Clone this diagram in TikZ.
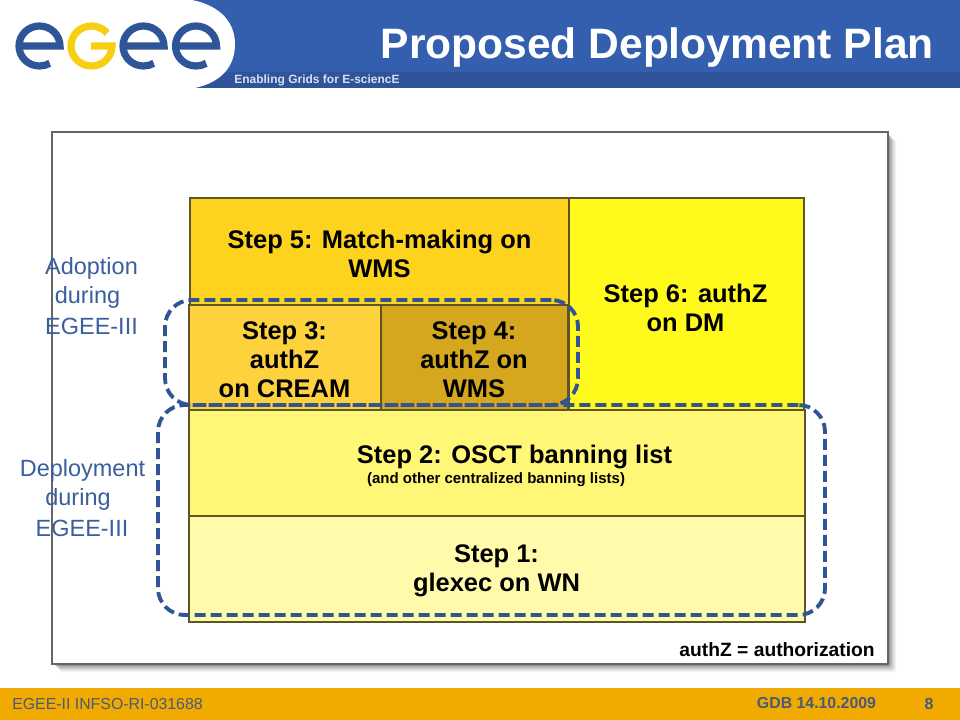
\documentclass[tikz,border=0pt]{standalone}
\usepackage{fontspec}
\setmainfont{Liberation Sans}
\usetikzlibrary{calc}
\definecolor{hdrblue}{HTML}{335FAE}
\definecolor{stripblue}{HTML}{2F5499}
\definecolor{footor}{HTML}{F0AA00}
\definecolor{logoblue}{HTML}{2E5597}
\definecolor{logoyel}{HTML}{F7CE10}
\definecolor{dashblue}{HTML}{2F5596}
\definecolor{lblblue}{HTML}{3A5E9E}
\definecolor{footgray}{HTML}{4A5A78}
\definecolor{tagcol}{HTML}{D6E0F0}
\definecolor{stepline}{HTML}{5F5428}
\definecolor{cfive}{HTML}{FDD31E}
\definecolor{csix}{HTML}{FFFA1C}
\definecolor{cthree}{HTML}{FED23C}
\definecolor{cfour}{HTML}{D4A71E}
\definecolor{ctwo}{HTML}{FFF775}
\definecolor{cone}{HTML}{FFFBAA}
\newcommand{\fsz}[2]{\fontsize{#1}{#2}\selectfont}
\tikzset{
  stepbox/.style={draw=stepline,line width=0.85pt,inner sep=0pt,outer sep=0pt,anchor=north west},
  steptext/.style={inner sep=0pt,align=center,font=\bfseries\fsz{19.1}{21.75}},
  sidelabel/.style={text=lblblue,font=\fsz{17.6}{20},inner sep=0pt},
  dashloop/.style={draw=dashblue,line width=2.9pt,dash pattern=on 8.2pt off 3.8pt,rounded corners=20pt,inner sep=0pt,outer sep=0pt,anchor=north west},
}
\begin{document}
\begin{tikzpicture}[x=0.75pt,y=-0.75pt]
\useasboundingbox (0,0) rectangle (960,720);
\fill[white] (0,0) rectangle (960,720);
% header
\fill[hdrblue] (0,0) rectangle (960,88);
\fill[stripblue] (0,72) rectangle (960,88);
\fill[white] (0,0) -- (192,0) .. controls (222,6) and (235,24) .. (235,44) .. controls (235,66) and (222,82) .. (195,88) -- (0,88) -- cycle;
% logo
\foreach \cx in {39.5,143.5,196}{
  \draw[line width=5.4pt,color=logoblue] (\cx-20.5,46) -- (\cx+20.5,46) arc[start angle=0,end angle=-300,x radius=20.5,y radius=20];
}
\draw[line width=5.4pt,color=logoyel] (91,46) -- (112,46) arc[start angle=0,end angle=320,x radius=20.5,y radius=20];
\node[anchor=west,inner sep=0pt,text=tagcol,font=\bfseries\fsz{9}{11}] (tag) at (234,80) {Enabling Grids for E-sciencE};
\node[anchor=east,inner sep=0pt,text=white,font=\bfseries\fsz{31.9}{36}] (title) at (934,48) {Proposed Deployment Plan};
% footer
\fill[footor] (0,688) rectangle (960,720);
\node[anchor=west,inner sep=0pt,text=footgray,font=\fsz{11.9}{14}] (proj) at (12,704) {EGEE-II INFSO-RI-031688};
\node[anchor=center,inner sep=0pt,text=footgray,font=\bfseries\fsz{11.9}{13}] (gdb) at (816.5,703) {GDB 14.10.2009};
\node[anchor=center,inner sep=0pt,text=footgray,font=\bfseries\fsz{12}{14}] (page) at (929,704) {8};
% panel with soft shadow
\foreach \o/\a in {8/0.05,6.5/0.07,5/0.09,3.5/0.12,2/0.16}{
  \fill[black,opacity=\a,rounded corners=2pt] (52+\o,132+\o) rectangle (888+\o,664+\o);
}
\node[draw=black!60,line width=1.3pt,fill=white,inner sep=0pt,outer sep=0pt,anchor=north west,minimum width=627pt,minimum height=399pt] (panel) at (52,132) {};
% steps
\node[stepbox,fill=cfive,minimum width=284.25pt,minimum height=80.25pt] (s5) at (190,198) {};
\node[stepbox,fill=csix,minimum width=176.25pt,minimum height=159pt] (s6) at (569,198) {};
\node[stepbox,fill=cthree,minimum width=144pt,minimum height=78.75pt] (s3) at (189,305) {};
\node[stepbox,fill=cfour,minimum width=140.25pt,minimum height=78.75pt] (s4) at (381,305) {};
\node[stepbox,fill=ctwo,minimum width=462pt,minimum height=79.5pt] (s2) at (189,410) {};
\node[stepbox,fill=cone,minimum width=462pt,minimum height=79.5pt] (s1) at (189,516) {};
\node[steptext] (s5t) at (379.5,254) {Step 5: Match-making on\\WMS};
\node[steptext] (s6t) at (685.5,307.5) {Step 6: authZ\\on DM};
\node[steptext] (s3t) at (284.5,360) {Step 3:\\authZ\\on CREAM};
\node[steptext] (s4t) at (474,360) {Step 4:\\authZ on\\WMS};
\node[steptext] (s2a) at (514.5,456.5) {Step 2: OSCT banning list};
\node[inner sep=0pt,font=\bfseries\fsz{11.27}{13}] (s2b) at (496,480) {(and other centralized banning lists)};
\node[steptext] (s1t) at (496.5,571) {Step 1:\\glexec on WN};
% dashed loops
\node[dashloop,minimum width=309.75pt,minimum height=78.75pt] (adopt) at (165,300) {};
\node[dashloop,minimum width=500.25pt,minimum height=157.5pt] (deploy) at (158,405) {};
% labels
\node[sidelabel] (a1) at (91.5,268.5) {Adoption};
\node[sidelabel] (a2) at (87.5,297.5) {during};
\node[sidelabel] (a3) at (91.5,326.5) {EGEE-III};
\node[sidelabel] (d1) at (82.5,470.5) {Deployment};
\node[sidelabel] (d2) at (78,499.5) {during};
\node[sidelabel] (d3) at (82,528.5) {EGEE-III};
\node[anchor=east,inner sep=0pt,font=\bfseries\fsz{14.45}{17}] (note) at (875,650) {authZ = authorization};
\end{tikzpicture}
\end{document}
